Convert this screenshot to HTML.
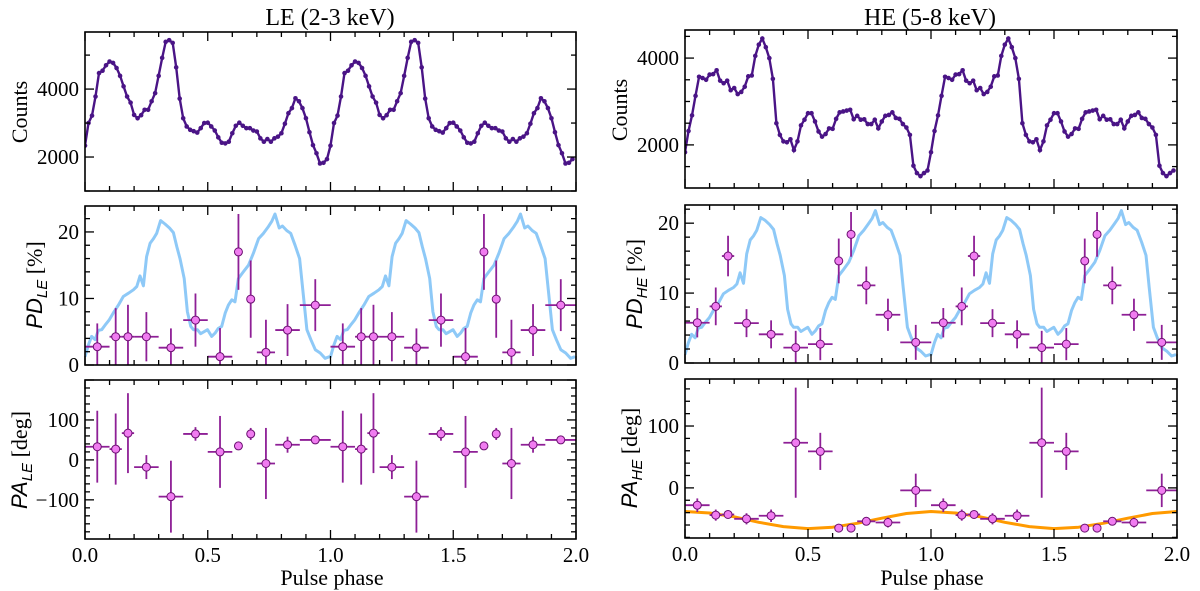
<!DOCTYPE html>
<html><head><meta charset="utf-8">
<style>
body{margin:0;background:#fff;}
svg{display:block;}
text{font-family:"Liberation Serif","DejaVu Serif",serif;}
</style></head>
<body>
<svg id="fig" width="1200" height="591" viewBox="0 0 1200 591" xmlns="http://www.w3.org/2000/svg" font-family="Liberation Serif, serif"></svg>
<script>
// ---- data ----
const countsLE = [2335,3000,3220,3780,4470,4540,4700,4810,4770,4620,4390,4080,3780,3600,3240,3140,3230,3390,3390,3640,3880,4390,4920,5390,5440,5360,4640,3720,3140,2900,2800,2760,2720,2850,3000,3010,2900,2780,2580,2420,2400,2450,2700,2920,3010,2920,2850,2850,2780,2750,2550,2450,2530,2450,2550,2600,2700,2980,3290,3440,3730,3640,3440,3140,2730,2350,2110,1810,1830,1940];
const countsHE = [1830,2320,2680,3130,3570,3540,3500,3620,3630,3720,3480,3420,3480,3260,3310,3170,3220,3340,3580,3600,4050,4310,4450,4250,4000,3520,2500,2230,2080,2060,2130,1880,2080,2450,2580,2730,2730,2540,2310,2190,2250,2380,2370,2600,2750,2770,2790,2810,2590,2670,2580,2590,2480,2480,2580,2380,2540,2670,2690,2750,2620,2600,2480,2400,2230,1520,1350,1280,1350,1410];
const pdModelPhase = [0,.014,.027,.041,.054,.068,.082,.099,.115,.136,.156,.177,.197,.211,.224,.238,.251,.265,.279,.292,.308,.326,.344,.36,.374,.387,.404,.417,.431,.442,.458,.471,.485,.499,.516,.53,.543,.557,.571,.584,.598,.611,.625,.645,.666,.686,.707,.727,.747,.761,.774,.791,.804,.822,.838,.856,.874,.887,.904,.92,.938,.958,.978,.996];
const pdModelLE = [1.25,3.0,4.3,3.8,5.2,5.3,6.0,6.8,7.8,9.0,10.3,10.8,11.3,11.8,13.4,11.9,16.3,18.3,19.0,19.8,21.7,21.2,20.6,19.9,17.8,16.0,13.0,8.0,5.8,5.3,5.3,4.7,5.0,5.3,4.3,4.8,5.5,5.8,7.8,9.0,9.8,9.5,13.0,14.0,15.0,16.8,19.0,19.8,20.8,21.6,22.7,20.6,20.9,20.2,19.8,18.0,16.0,11.3,5.3,3.8,2.3,1.8,1.0,1.25];
const pdModelHE = [1.2,2.9,4.1,3.6,5.0,5.1,5.8,6.5,7.5,8.6,9.9,10.4,10.8,11.3,12.9,11.4,15.6,17.6,18.2,19.0,20.8,20.4,19.8,19.1,17.1,15.4,12.5,7.7,5.6,5.1,5.1,4.5,4.8,5.1,4.1,4.6,5.3,5.6,7.5,8.6,9.4,9.1,12.5,13.4,14.4,16.1,18.2,19.0,20.0,20.7,21.8,19.8,20.1,19.4,19.0,17.3,15.4,10.8,5.1,3.6,2.2,1.7,1.0,1.2];
const binPhase = [0.05,0.125,0.175,0.25,0.35,0.45,0.55,0.625,0.675,0.737,0.825,0.938];
const binHalf  = [0.05,0.025,0.025,0.05,0.05,0.05,0.05,0.015,0.012,0.037,0.05,0.063];
const pdLE  = [2.75,4.25,4.25,4.25,2.6,6.75,1.25,17.0,9.9,1.9,5.25,9.0];
const pdLEerr=[3.5,4.3,4.8,3.7,2.9,4.0,4.3,5.7,5.8,4.9,3.9,3.9];
const paLE  = [33,27,67,-18,-92,65,20,35,65,-9,38,50];
const paLEerr=[90,89,100,30,90,17,90,6,15,89,20,10];
const pdHE  = [5.76,8.1,15.3,5.7,4.1,2.2,2.7,14.6,18.4,11.1,6.9,2.95];
const pdHEerr=[2.1,2.7,2.9,2.0,2.0,2.4,2.3,3.2,3.2,2.7,2.3,2.5];
const paHE  = [-28,-44,-43,-50,-45,73,59,-65,-65,-54,-56,-4];
const paHEerr=[11,9,5,9,10,89,30,4,4,6,8,27];
const fitPhase = [0,0.1,0.2,0.3,0.4,0.5,0.6,0.7,0.8,0.9,1.0];
const fitPA = [-38.2,-40.6,-46.7,-55.7,-62.6,-65.8,-63.6,-57.2,-49,-41.4,-38.2];
const xTickLabels = ["0.0","0.5","1.0","1.5","2.0"];

const NS="http://www.w3.org/2000/svg";
const svg=document.getElementById('fig');
const SERIF='Liberation Serif, serif';
function el(tag,attrs,parent){const e=document.createElementNS(NS,tag);for(const k in attrs)e.setAttribute(k,attrs[k]);(parent||svg).appendChild(e);return e;}

function makePanel(name,x0,x1,y0,y1,ymin,ymax,major,minor,labels,showX){
  const g=el('g',{});
  
  
  const sx=v=>x0+(v/2)*(x1-x0);
  const sy=v=>y1-(v-ymin)/(ymax-ymin)*(y1-y0);
  const cid='clip-'+name;
  const cp=el('clipPath',{id:cid},g);el('rect',{x:x0,y:y0,width:x1-x0,height:y1-y0},cp);
  const plot=el('g',{'clip-path':'url(#'+cid+')'},g);
  const tg=el('g',{stroke:'#000','stroke-width':1.3},g);
  
  
  for(let i=0;i<=20;i++){const v=i*0.1,x=sx(v),L=(i%5==0)?9:5;
    el('line',{x1:x,x2:x,y1:y1,y2:y1-L},tg);el('line',{x1:x,x2:x,y1:y0,y2:y0+L},tg);}
  for(let v=Math.ceil(ymin/minor)*minor;v<=ymax+1e-9;v+=minor){const y=sy(v);const mj=Math.abs(v/major-Math.round(v/major))<1e-6;const L=mj?9:5;
    el('line',{x1:x0,x2:x0+L,y1:y,y2:y},tg);el('line',{x1:x1,x2:x1-L,y1:y,y2:y},tg);}
  labels.forEach(v=>{const t=el('text',{x:x0-6,y:sy(v)+7,'text-anchor':'end','font-size':21,'font-family':SERIF},g);t.textContent=(v<0?'\u2212'+(-v):v);
    });
  if(showX){xTickLabels.forEach((s,i)=>{const t=el('text',{x:sx(i*0.5),y:y1+23,'text-anchor':'middle','font-size':21,'font-family':SERIF},g);t.textContent=s;
    });}
  el('rect',{x:x0,y:y0,width:x1-x0,height:y1-y0,fill:'none',stroke:'#000','stroke-width':1.6},g);
  return {g,plot,sx,sy};
}
function counts(p,vals,name){
  const n=vals.length;let d='';const pts=[];
  for(let c=0;c<2;c++)vals.forEach((v,i)=>{const x=p.sx(c+i/n),y=p.sy(v);d+=(d?'L':'M')+x.toFixed(1)+','+y.toFixed(1);pts.push([x,y]);});
  const l=el('path',{d,fill:'none',stroke:'#4a1486','stroke-width':2.4},p.plot);
  
  pts.forEach(q=>{const m=el('circle',{cx:q[0],cy:q[1],r:2.3,fill:'#4a1486'},p.plot);
    });
}
function line(p,ph,vals,color,name){
  let d='';
  for(let c=0;c<2;c++)ph.forEach((f,i)=>{d+=(d?'L':'M')+p.sx(c+f).toFixed(1)+','+p.sy(vals[i]).toFixed(1);});
  const l=el('path',{d,fill:'none',stroke:color,'stroke-width':3,'stroke-linejoin':'round'},p.plot);
  
}
function errs(p,vals,ev,name){
  for(let c=0;c<2;c++)binPhase.forEach((f,i)=>{
    const g=el('g',{},p.plot);
    
    const x=p.sx(c+f),y=p.sy(vals[i]);
    el('line',{x1:p.sx(c+f-binHalf[i]),x2:p.sx(c+f+binHalf[i]),y1:y,y2:y,stroke:'#8e1f96','stroke-width':1.8},g);
    el('line',{x1:x,x2:x,y1:p.sy(vals[i]-ev[i]),y2:p.sy(vals[i]+ev[i]),stroke:'#8e1f96','stroke-width':1.8},g);
    el('circle',{cx:x,cy:y,r:4,fill:'#f07cf0',stroke:'#6a1070','stroke-width':1},g);
  });
}
function ytitle(x,y,html,name){const t=el('text',{x:0,y:0,transform:`translate(${x},${y}) rotate(-90)`,'text-anchor':'middle','font-size':22,'font-family':SERIF},svg);t.innerHTML=html;
  }
function txt(x,y,s,fs,name){const t=el('text',{x,y,'text-anchor':'middle','font-size':fs,'font-family':SERIF});t.textContent=s;}

const cL=makePanel('le-counts-panel',85,576,32,191,1000,5680,2000,1000,[2000,4000],false);
counts(cL,countsLE,'le-counts');
const pL=makePanel('le-pd-panel',85,576,206,365,0,23.9,10,2,[0,10,20],false);
line(pL,pdModelPhase,pdModelLE,'#8ec9f7','le-pd-model-line');
errs(pL,pdLE,pdLEerr,'le-pd');
const aL=makePanel('le-pa-panel',85,576,380,539,-198,200,100,20,[-100,0,100],true);
errs(aL,paLE,paLEerr,'le-pa');
const cR=makePanel('he-counts-panel',685,1177,30,188,1007,4647,2000,500,[2000,4000],false);
counts(cR,countsHE,'he-counts');
const pR=makePanel('he-pd-panel',685,1177,205,363,0,22.6,10,2,[0,10,20],false);
line(pR,pdModelPhase,pdModelHE,'#8ec9f7','he-pd-model-line');
errs(pR,pdHE,pdHEerr,'he-pd');
const aR=makePanel('he-pa-panel',685,1177,379,538,-81,176,100,20,[0,100],true);
line(aR,fitPhase,fitPA,'#ff9a00','he-pa-fit-line');
errs(aR,paHE,paHEerr,'he-pa');

txt(330,25,'LE (2-3 keV)',24,'le-title');
txt(930,25,'HE (5-8 keV)',24,'he-title');
txt(332,585,'Pulse phase',22,'le-x-axis-title');
txt(932,585,'Pulse phase',22,'he-x-axis-title');
ytitle(27,112,'Counts','le-counts-y-title');
ytitle(627,110,'Counts','he-counts-y-title');
const sf='font-family="Liberation Sans, sans-serif" font-style="italic"';
ytitle(42,285,`<tspan ${sf}>PD</tspan><tspan ${sf} font-size="15" dy="5">LE</tspan><tspan dy="-5"> [%]</tspan>`,'le-pd-y-title');
ytitle(642,284,`<tspan ${sf}>PD</tspan><tspan ${sf} font-size="15" dy="5">HE</tspan><tspan dy="-5"> [%]</tspan>`,'he-pd-y-title');
ytitle(27,460,`<tspan ${sf}>PA</tspan><tspan ${sf} font-size="15" dy="5">LE</tspan><tspan dy="-5"> [deg]</tspan>`,'le-pa-y-title');
ytitle(637,458,`<tspan ${sf}>PA</tspan><tspan ${sf} font-size="15" dy="5">HE</tspan><tspan dy="-5"> [deg]</tspan>`,'he-pa-y-title');
</script>
</body></html>
